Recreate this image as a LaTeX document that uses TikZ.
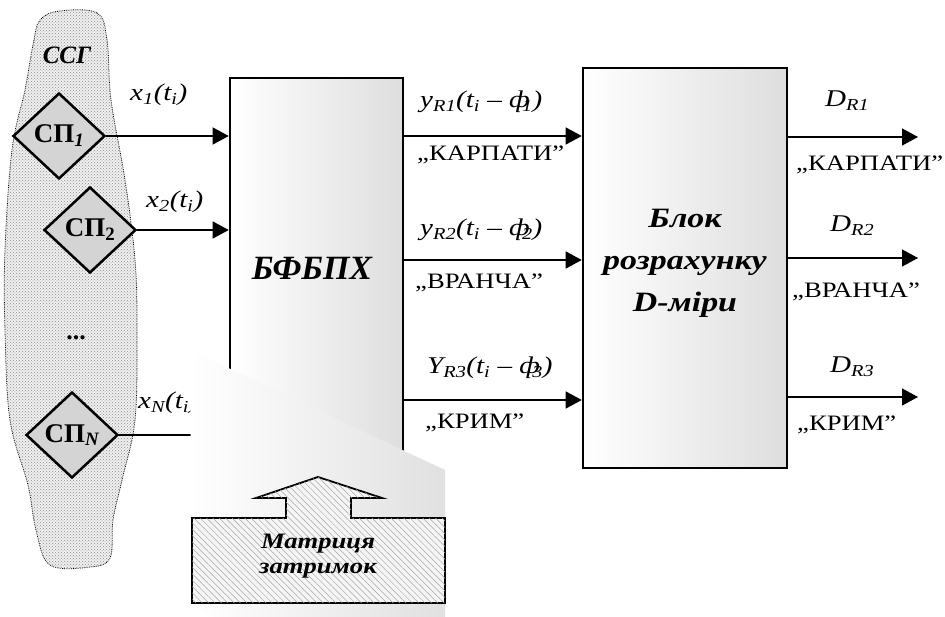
\documentclass[tikz,border=0pt]{standalone}
\usepackage{fontspec}
\setmainfont{Liberation Serif}
\newfontfamily\wf{Liberation Serif}[FakeStretch=1.21]
\usetikzlibrary{shapes.geometric,arrows.meta,patterns,patterns.meta}
\newcommand{\sbs}[1]{\textsubscript{#1}}
\newcommand{\phs}[1]{ф\kern-0.32em\textsubscript{#1}}
\begin{document}
\begin{tikzpicture}[x=1pt,y=-1pt,
  lab/.style={font=\wf\fontsize{24}{26}\selectfont\itshape, inner sep=0pt, anchor=west},
  qlab/.style={font=\wf\fontsize{22}{26}\selectfont, inner sep=0pt, anchor=west},
  sp/.style={diamond, draw, line width=2.5pt, fill=black!17, minimum width=92pt, minimum height=86pt, inner sep=0pt, font=\fontsize{27}{30}\selectfont\bfseries},
  blk/.style={draw, line width=2.6pt, left color=white, right color=black!13, inner sep=0pt},
  arr/.style={line width=1.3pt, -{Triangle[length=16pt,width=17pt]}},
  plain/.style={line width=1.3pt},
  big/.style={font=\fontsize{#1}{#1}\selectfont\bfseries\itshape, inner sep=0pt, align=center},
  wbig/.style={font=\wf\fontsize{#1}{#1}\selectfont\bfseries\itshape, inner sep=0pt, align=center}
]
\useasboundingbox (0,0) rectangle (945,617);

% SSG blob
\draw[densely dotted, line width=0.8pt, fill=black!6,
      postaction={pattern=crosshatch dots, pattern color=black!45}]
  plot[smooth cycle, tension=0.6] coordinates {
  (60,11) (97,13) (107,40) (111,100) (125,180) (135,260) (137,330) (135,420)
  (122,480) (113,520) (110,558) (90,567) (50,565) (36,530) (28,485) (10,420)
  (5,330) (5,250) (12,150) (25,90) (33,45) (40,20)};
\node[big=25] (ssg) at (67,55) {ССГ};

\node[sp] (d1) at (59,136) {СП\textsubscript{\itshape 1}};
\node[sp] (d2) at (90,230) {СП\textsubscript{2}};
\node[sp] (dn) at (72,435) {СП\textsubscript{\itshape N}};
\node[font=\fontsize{26}{26}\selectfont\bfseries, inner sep=0pt] (dots) at (76,338) {...};

% main blocks
\node[blk, minimum width=173pt, minimum height=392pt] (bf) at (316.5,274) {};
\node[big=34] (bft) at (312,268) {БФБПХ};
\node[blk, minimum width=204pt, minimum height=400pt] (rb) at (685,268) {};
\node[wbig=28] (rbt) at (685,263) {Блок\\[14pt]розрахунку\\[14pt]D-міри};

% inputs
\draw[arr] (d1.east) -- (d1.east -| bf.west);
\draw[arr] (d2.east) -- (d2.east -| bf.west);
\draw[plain] (dn.east) -- (dn.east -| bf.west);
\node[lab] (lx1) at (130,95) {x\sbs{1}(t\sbs{i})};
\node[lab] (lx2) at (146,202) {x\sbs{2}(t\sbs{i})};
\node[lab] (lxn) at (138,403) {x\sbs{N}(t\sbs{i})};

% BFBPH -> block
\coordinate (m1) at (0,136);
\coordinate (m2) at (0,260);
\coordinate (m3) at (0,400);
\draw[arr] (bf.east |- m1) -- (rb.west |- m1);
\draw[arr] (bf.east |- m2) -- (rb.west |- m2);
\draw[arr] (bf.east |- m3) -- (rb.west |- m3);
\node[lab] (ly1) at (420,102) {y\sbs{R1}(t\sbs{i} – \phs{1})};
\node[qlab] (q1) at (417,155) {„КАРПАТИ”};
\node[lab] (ly2) at (420,230) {y\sbs{R2}(t\sbs{i} – \phs{2})};
\node[qlab] (q2) at (415,283) {„ВРАНЧА”};
\node[lab] (ly3) at (427,368) {Y\sbs{R3}(t\sbs{i} – \phs{3})};
\node[qlab] (q3) at (425,423) {„КРИМ”};

% outputs
\coordinate (o1) at (918,137);
\coordinate (o2) at (918,258);
\coordinate (o3) at (918,397);
\draw[arr] (rb.east |- o1) -- (o1);
\draw[arr] (rb.east |- o2) -- (o2);
\draw[arr] (rb.east |- o3) -- (o3);
\node[lab] (ld1) at (825,101) {D\sbs{R1}};
\node[qlab] (r1) at (796,165) {„КАРПАТИ”};
\node[lab] (ld2) at (830,226) {D\sbs{R2}};
\node[qlab] (r2) at (792,292) {„ВРАНЧА”};
\node[lab] (ld3) at (830,367) {D\sbs{R3}};
\node[qlab] (r3) at (797,425) {„КРИМ”};

% perspective shadow of the delay matrix
\shade[left color=white, right color=black!12]
  (190,350) -- (445,470) -- (445,617) -- (215,617) -- (192,603) -- cycle;

% delay matrix with arrow
\draw[line width=1.8pt, fill=black!4,
      postaction={pattern={Lines[angle=-45,distance=4.5pt,line width=0.5pt]}, pattern color=black!35}]
  (192,518) -- (286,518) -- (286,498) -- (256,498) -- (318,477) -- (382,498)
  -- (351,498) -- (351,518) -- (445,518) -- (445,603) -- (192,603) -- cycle;
\node[wbig=22] (mt) at (318,556) {Матриця\\[3pt]затримок};
\end{tikzpicture}
\end{document}
